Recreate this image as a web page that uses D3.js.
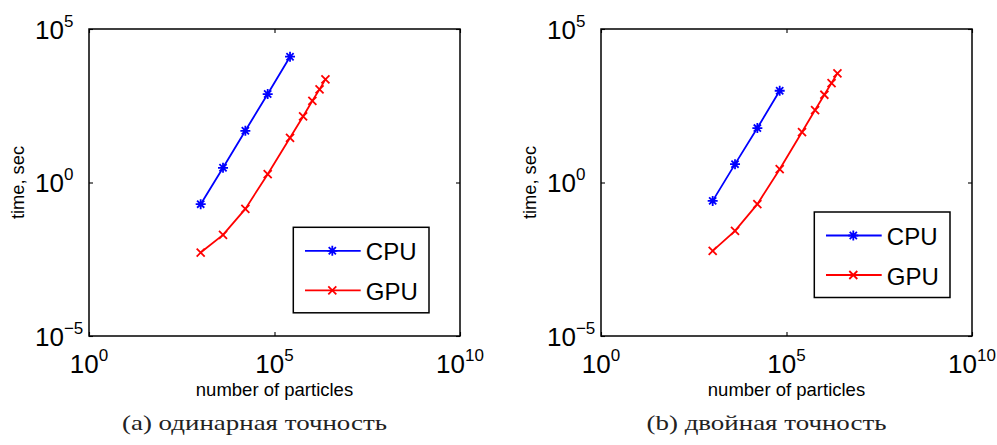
<!doctype html>
<html>
<head>
<meta charset="utf-8">
<script src="https://d3js.org/d3.v7.min.js"></script>
<style>
  body { margin: 0; background: #fff; }
  text { font-family: "Liberation Sans", Arial, Helvetica, sans-serif; }
</style>
</head>
<body>
<svg width="997" height="445"></svg>
<script>
// number of particles (shared x values)
var particles = [1024, 4096, 16384, 65536, 262144, 589824, 1048576, 1638400, 2359296];

// time, sec -- single precision
var cpuSingle = [0.197, 3.01, 48.3, 759, 12500];
var gpuSingle = [0.00524, 0.0196, 0.138, 1.87, 28.6, 142, 459, 1081, 2291];

// time, sec -- double precision
var cpuDouble = [0.252, 3.96, 59.2, 973];
var gpuDouble = [0.00592, 0.0265, 0.197, 2.72, 43.9, 229, 721, 1734, 3589];

var xTicks = [1, 1e5, 1e10];
var xTickExp = ["0", "5", "10"];
var yTicks = [1e-5, 1, 1e5];
var yTickExp = ["\u22125", "0", "5"];

var seriesNames = ["CPU", "GPU"];
var captions = ["(a) одинарная точность", "(b) двойная точность"];

var svg = d3.select("svg");

var plotW = 371, plotH = 307, plotTop = 29;

function zip(xs, ys) {
  return ys.map(function (v, i) { return [xs[i], v]; });
}

// asterisk marker (MATLAB '*')
function starPath(r) {
  var d = r * 0.72;
  return "M" + (-r) + ",0L" + r + ",0M0," + (-r) + "L0," + r +
         "M" + (-d) + "," + (-d) + "L" + d + "," + d +
         "M" + (-d) + "," + d + "L" + d + "," + (-d);
}
function crossPath(r) {
  return "M" + (-r) + "," + (-r) + "L" + r + "," + r +
         "M" + (-r) + "," + r + "L" + r + "," + (-r);
}

function drawPanel(left, cpu, gpu, legendBox, caption, capWidth) {
  var x = d3.scaleLog().domain([1, 1e10]).range([0, plotW]);
  var y = d3.scaleLog().domain([1e-5, 1e5]).range([plotH, 0]);

  var g = svg.append("g")
    .attr("transform", "translate(" + left + "," + plotTop + ")");

  // inward ticks on all four sides
  g.append("g").attr("transform", "translate(0," + plotH + ")")
    .call(d3.axisBottom(x).tickValues(xTicks).tickSize(-4).tickFormat(""));
  g.append("g")
    .call(d3.axisTop(x).tickValues(xTicks).tickSize(-4).tickFormat(""));
  g.append("g")
    .call(d3.axisLeft(y).tickValues(yTicks).tickSize(-4).tickFormat(""));
  g.append("g").attr("transform", "translate(" + plotW + ",0)")
    .call(d3.axisRight(y).tickValues(yTicks).tickSize(-4).tickFormat(""));
  g.selectAll(".domain").remove();
  g.selectAll(".tick line").attr("stroke", "#000").attr("stroke-width", 1.1);

  g.append("rect")
    .attr("width", plotW).attr("height", plotH)
    .attr("fill", "none").attr("stroke", "#000").attr("stroke-width", 1.5);

  // x tick labels 10^n
  xTicks.forEach(function (t, i) {
    var tx = g.append("text")
      .attr("x", x(t)).attr("y", plotH + 36.5)
      .attr("text-anchor", "middle")
      .style("font-size", "26px");
    tx.append("tspan").text("10");
    tx.append("tspan").attr("dy", -12).style("font-size", "17px").text(xTickExp[i]);
  });

  // y tick labels 10^n
  yTicks.forEach(function (t, i) {
    var ty = g.append("text")
      .attr("x", -54).attr("y", y(t) + 9.5)
      .style("font-size", "26px");
    ty.append("tspan").text("10");
    ty.append("tspan").attr("dy", -12).style("font-size", "17px").text(yTickExp[i]);
  });

  g.append("text")
    .attr("x", plotW / 2).attr("y", plotH + 59.5)
    .attr("text-anchor", "middle")
    .style("font-size", "18.5px")
    .text("number of particles");

  g.append("text")
    .attr("text-anchor", "middle")
    .attr("transform", "translate(-65.5," + (plotH / 2) + ")rotate(-90)")
    .style("font-size", "18.3px")
    .text("time, sec");

  var line = d3.line()
    .x(function (d) { return x(d[0]); })
    .y(function (d) { return y(d[1]); });

  var series = [
    { data: zip(particles, cpu), color: "#0000ff", marker: starPath(5) },
    { data: zip(particles, gpu), color: "#ff0000", marker: crossPath(4) }
  ];

  series.forEach(function (s) {
    g.append("path")
      .datum(s.data)
      .attr("d", line)
      .attr("fill", "none")
      .attr("stroke", s.color)
      .attr("stroke-width", 1.8);
    g.selectAll(null)
      .data(s.data)
      .enter()
      .append("path")
      .attr("transform", function (d) { return "translate(" + x(d[0]) + "," + y(d[1]) + ")"; })
      .attr("d", s.marker)
      .attr("fill", "none")
      .attr("stroke", s.color)
      .attr("stroke-width", 1.8);
  });

  // legend
  var lg = svg.append("g")
    .attr("transform", "translate(" + legendBox[0] + "," + legendBox[1] + ")");
  lg.append("rect")
    .attr("width", 135.7).attr("height", 85.5)
    .attr("fill", "#fff").attr("stroke", "#000").attr("stroke-width", 1.5);
  series.forEach(function (s, i) {
    var ly = 23.5 + i * 39.5;
    lg.append("line")
      .attr("x1", 11.7).attr("x2", 67.4)
      .attr("y1", ly).attr("y2", ly)
      .attr("stroke", s.color).attr("stroke-width", 1.8);
    lg.append("path")
      .attr("transform", "translate(39," + ly + ")")
      .attr("d", s.marker)
      .attr("fill", "none")
      .attr("stroke", s.color)
      .attr("stroke-width", 1.8);
    lg.append("text")
      .attr("x", 72.5).attr("y", ly + 9.5)
      .style("font-size", "24px")
      .text(seriesNames[i]);
  });

  // caption
  svg.append("text")
    .attr("x", left + 165.5).attr("y", 429.5)
    .attr("text-anchor", "middle")
    .attr("textLength", capWidth)
    .attr("lengthAdjust", "spacingAndGlyphs")
    .style("font-family", "'Liberation Serif', 'DejaVu Serif', serif")
    .style("font-size", "21px")
    .style("fill", "#222")
    .text(caption);
}

drawPanel(89, cpuSingle, gpuSingle, [293.3, 227.3], captions[0], 265);
drawPanel(601, cpuDouble, gpuDouble, [814.3, 212], captions[1], 240);
</script>
</body>
</html>
